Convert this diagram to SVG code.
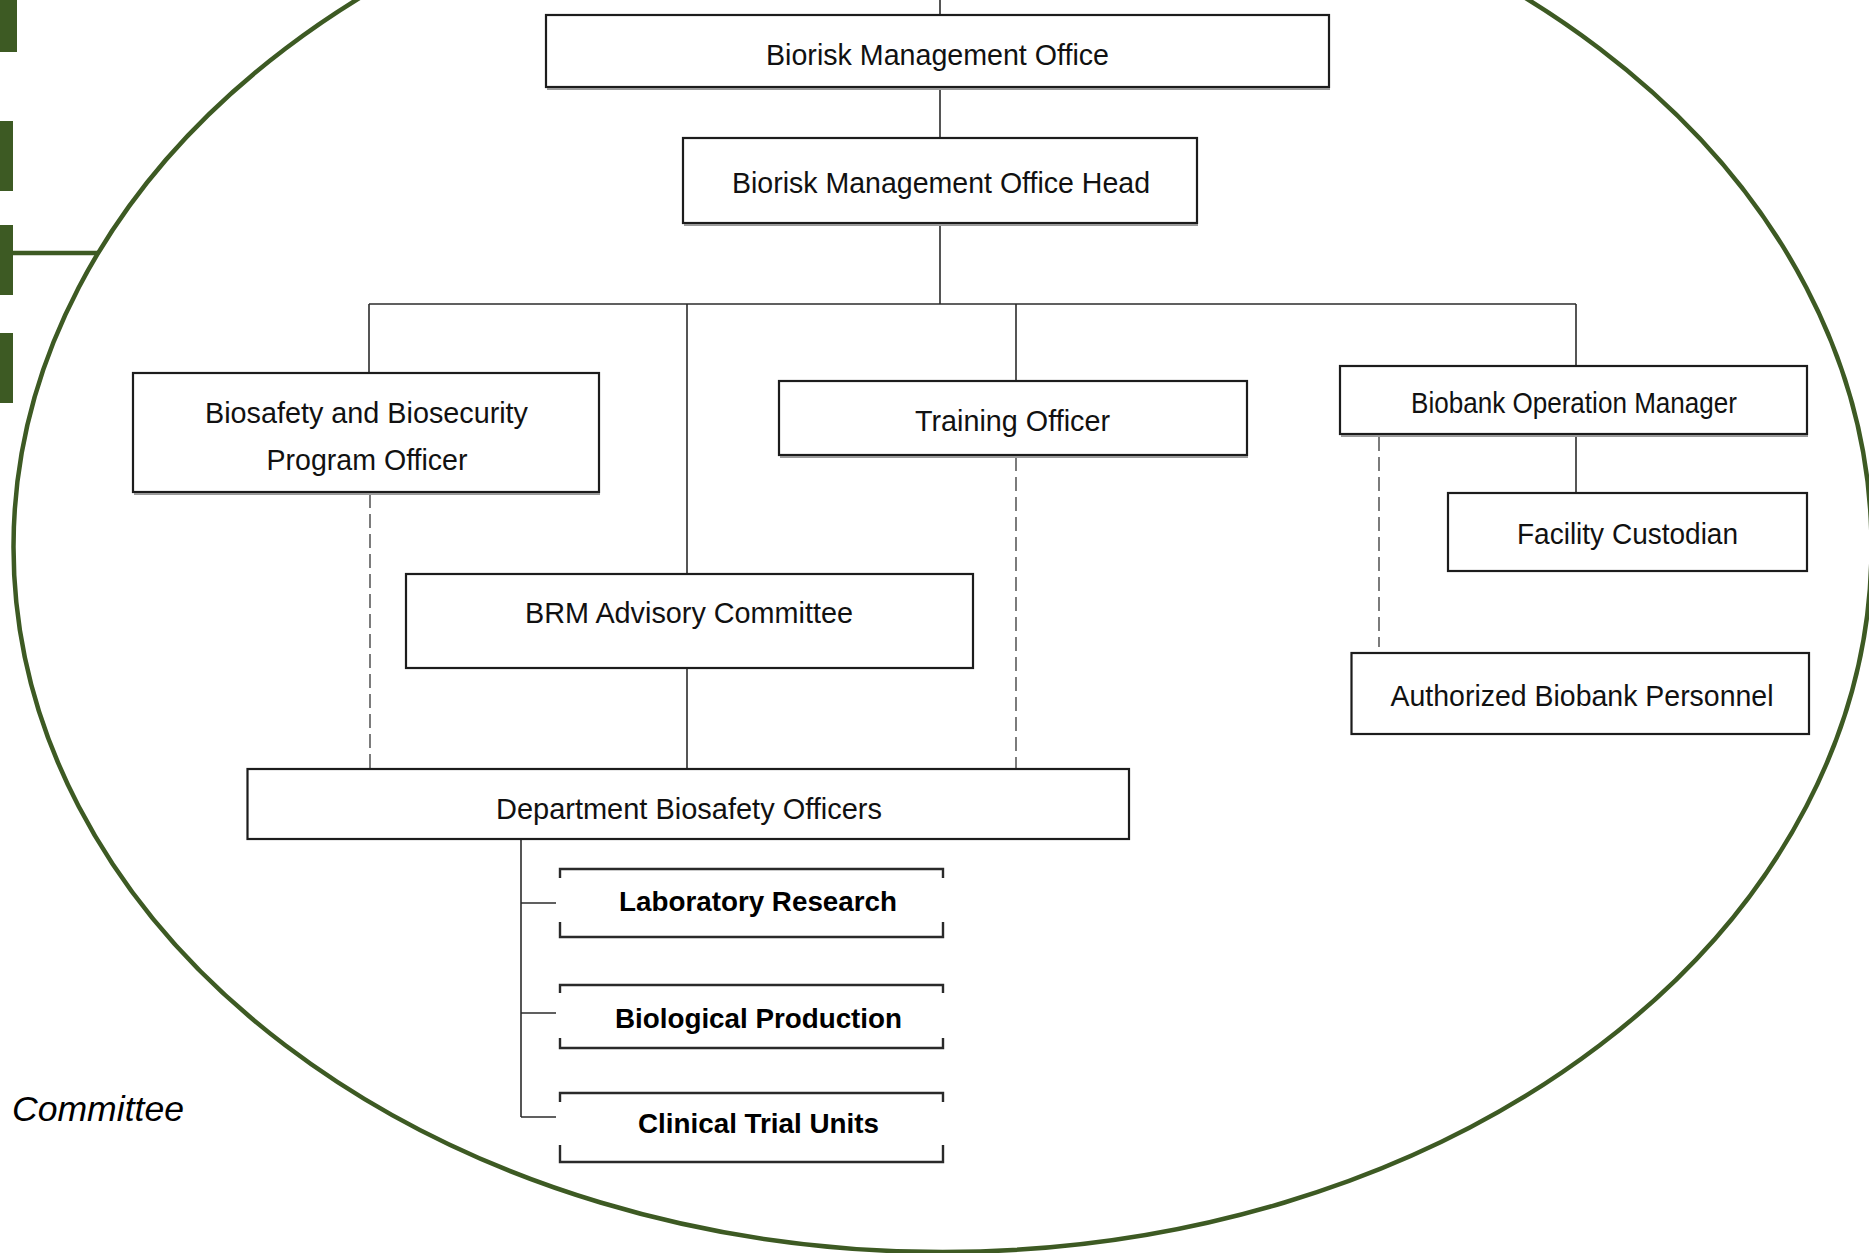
<svg xmlns="http://www.w3.org/2000/svg" width="1869" height="1253" viewBox="0 0 1869 1253">
<style>
.bg{fill:#ffffff}
.box{fill:#ffffff;stroke:#1c1c1c;stroke-width:2.2}
.sh{fill:none;stroke:#9a9a9a;stroke-width:2}
.brk{fill:none;stroke:#2a2a2a;stroke-width:2.4}
.ln{fill:none;stroke:#2b2b2b;stroke-width:1.6}
.dash{fill:none;stroke:#6e6e6e;stroke-width:1.8;stroke-dasharray:14 6}
.g{fill:#3d5a23}
.gl{fill:none;stroke:#3d5a23;stroke-width:4.5}
.t{font-family:"Liberation Sans",Arial,sans-serif;font-size:29px;fill:#111;text-anchor:middle}
.tb{font-family:"Liberation Sans",Arial,sans-serif;font-size:28px;font-weight:bold;fill:#000;text-anchor:middle}
.ti{font-family:"Liberation Sans",Arial,sans-serif;font-size:35px;font-style:italic;fill:#000}
</style>
<rect class="bg" x="0" y="0" width="1869" height="1253"/>
<g id="side-bars">
<rect class="g" x="0" y="0" width="17" height="52"/>
<rect class="g" x="0" y="121" width="13" height="70"/>
<rect class="g" x="0" y="225" width="13" height="70"/>
<rect class="g" x="0" y="333" width="13" height="70"/>
<line class="gl" x1="12" y1="253" x2="98" y2="253"/>
</g>
<ellipse id="boundary" class="gl" cx="942.5" cy="547" rx="929" ry="705"/>
<text id="side-label" class="ti" x="12" y="1121" textLength="172" lengthAdjust="spacingAndGlyphs">Committee</text>
<g id="connectors">
<line class="ln" x1="940" y1="0" x2="940" y2="15"/>
<line class="ln" x1="940" y1="87" x2="940" y2="138"/>
<line class="ln" x1="940" y1="223" x2="940" y2="304"/>
<line class="ln" x1="369" y1="304" x2="1576" y2="304"/>
<line class="ln" x1="369" y1="304" x2="369" y2="373"/>
<line class="ln" x1="687" y1="304" x2="687" y2="574"/>
<line class="ln" x1="687" y1="668" x2="687" y2="769"/>
<line class="ln" x1="1016" y1="304" x2="1016" y2="381"/>
<line class="ln" x1="1576" y1="304" x2="1576" y2="366"/>
<line class="ln" x1="1576" y1="434" x2="1576" y2="493"/>
<line class="dash" x1="370" y1="494" x2="370" y2="769"/>
<line class="dash" x1="1016" y1="457" x2="1016" y2="769"/>
<line class="dash" x1="1379" y1="437" x2="1379" y2="647"/>
<line class="ln" x1="521" y1="839" x2="521" y2="1117"/>
<line class="ln" x1="521" y1="903" x2="556" y2="903"/>
<line class="ln" x1="521" y1="1013" x2="556" y2="1013"/>
<line class="ln" x1="521" y1="1117" x2="556" y2="1117"/>
</g>
<g id="brm-office">
<rect class="box" x="546" y="15" width="783" height="72"/>
<line class="sh" x1="547" y1="89" x2="1330" y2="89"/>
<text class="t" x="937.5" y="65" textLength="343" lengthAdjust="spacingAndGlyphs">Biorisk Management Office</text>
</g>
<g id="brm-office-head">
<rect class="box" x="683" y="138" width="514" height="85"/>
<line class="sh" x1="684" y1="225" x2="1198" y2="225"/>
<text class="t" x="941" y="193" textLength="418" lengthAdjust="spacingAndGlyphs">Biorisk Management Office Head</text>
</g>
<g id="bbpo">
<rect class="box" x="133" y="373" width="466" height="119"/>
<line class="sh" x1="134" y1="494" x2="600" y2="494"/>
<text class="t" x="366.5" y="423" textLength="323" lengthAdjust="spacingAndGlyphs">Biosafety and Biosecurity</text>
<text class="t" x="367" y="470" textLength="201" lengthAdjust="spacingAndGlyphs">Program Officer</text>
</g>
<g id="training-officer">
<rect class="box" x="779" y="381" width="468" height="74"/>
<line class="sh" x1="780" y1="457" x2="1248" y2="457"/>
<text class="t" x="1012.5" y="431" textLength="195" lengthAdjust="spacingAndGlyphs">Training Officer</text>
</g>
<g id="biobank-manager">
<rect class="box" x="1340" y="366" width="467" height="68"/>
<line class="sh" x1="1341" y1="436" x2="1808" y2="436"/>
<text class="t" x="1574" y="413" textLength="326" lengthAdjust="spacingAndGlyphs">Biobank Operation Manager</text>
</g>
<g id="facility-custodian">
<rect class="box" x="1448" y="493" width="359" height="78"/>
<text class="t" x="1627.5" y="544" textLength="221" lengthAdjust="spacingAndGlyphs">Facility Custodian</text>
</g>
<g id="authorized-personnel">
<rect class="box" x="1351.5" y="653" width="457.5" height="81"/>
<text class="t" x="1582" y="706" textLength="383" lengthAdjust="spacingAndGlyphs">Authorized Biobank Personnel</text>
</g>
<g id="brm-advisory">
<rect class="box" x="406" y="574" width="567" height="94"/>
<text class="t" x="689" y="623" textLength="328" lengthAdjust="spacingAndGlyphs">BRM Advisory Committee</text>
</g>
<g id="dept-biosafety">
<rect class="box" x="247.5" y="769" width="881.5" height="70"/>
<text class="t" x="689" y="819" textLength="386" lengthAdjust="spacingAndGlyphs">Department Biosafety Officers</text>
</g>
<g id="lab-research">
<path class="brk" d="M560,878 V869 H943 V878 M560,922 V937 H943 V922"/>
<text class="tb" x="758" y="911" textLength="278" lengthAdjust="spacingAndGlyphs">Laboratory Research</text>
</g>
<g id="bio-production">
<path class="brk" d="M560,993 V985 H943 V993 M560,1038 V1048 H943 V1038"/>
<text class="tb" x="758.5" y="1028" textLength="287" lengthAdjust="spacingAndGlyphs">Biological Production</text>
</g>
<g id="clinical-trial">
<path class="brk" d="M560,1102 V1093 H943 V1102 M560,1145 V1162 H943 V1145"/>
<text class="tb" x="758.5" y="1133" textLength="241" lengthAdjust="spacingAndGlyphs">Clinical Trial Units</text>
</g>
</svg>
